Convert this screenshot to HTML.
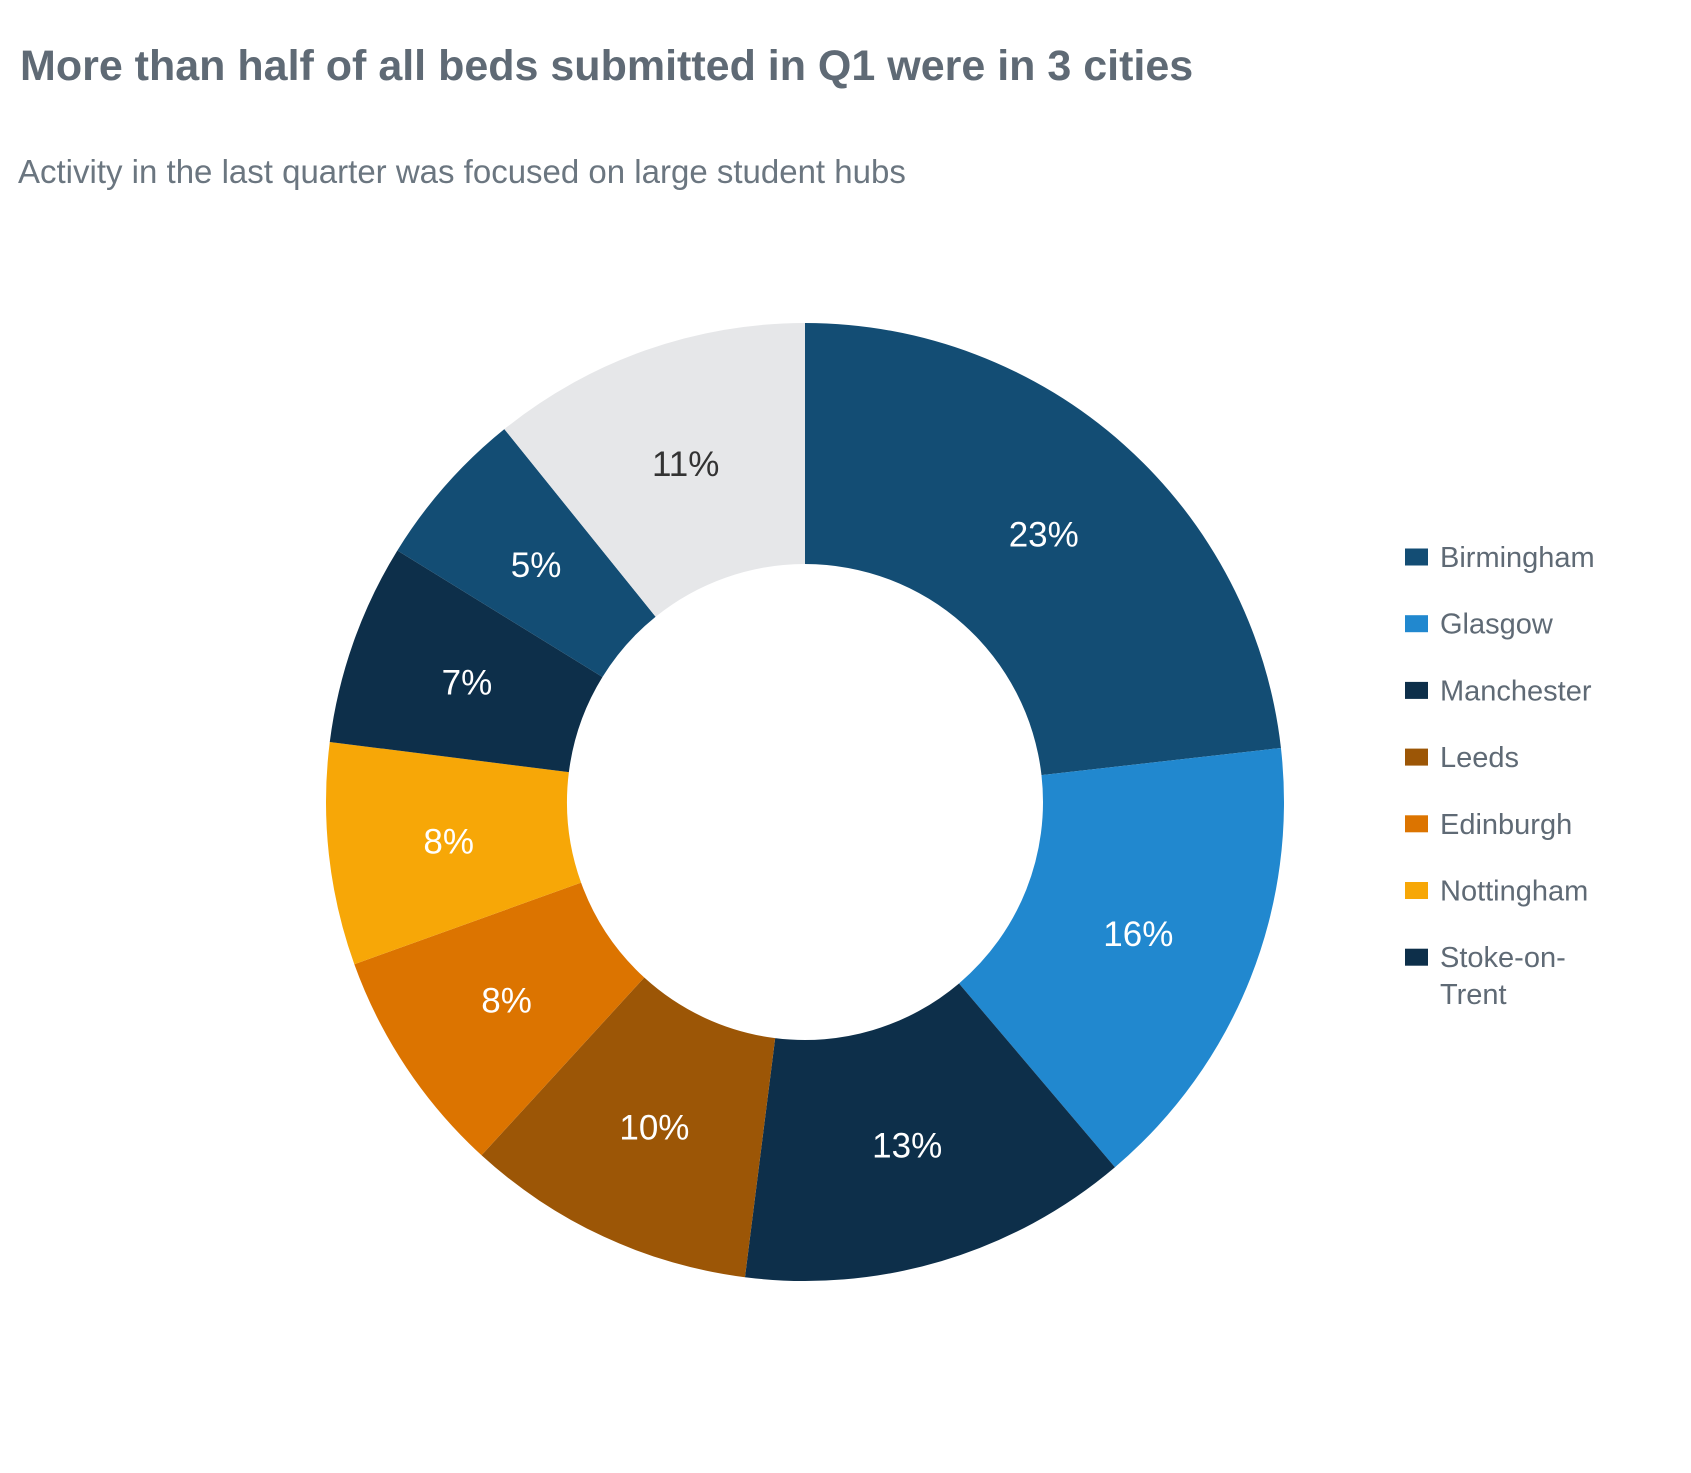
<!DOCTYPE html>
<html><head><meta charset="utf-8"><style>
body{margin:0;background:#fff;width:1691px;height:1468px;overflow:hidden;font-family:"Liberation Sans",sans-serif}
</style></head><body>
<svg width="1691" height="1468">
<text x="20" y="80" font-size="43" font-weight="bold" fill="#5f6a75" font-family="Liberation Sans, sans-serif">More than half of all beds submitted in Q1 were in 3 cities</text>
<text x="18" y="183" font-size="33" fill="#6b7680" font-family="Liberation Sans, sans-serif">Activity in the last quarter was focused on large student hubs</text>
<g id="pie"></g>
<g id="legend"></g>
</svg>
<script>
const categories=["Birmingham","Glasgow","Manchester","Leeds","Edinburgh","Nottingham","Stoke-on-Trent","Other city","Rest"];
const values=[23.2,15.6,13.2,9.8,7.7,7.5,6.8,5.4,10.8];
const labels=["23%","16%","13%","10%","8%","8%","7%","5%","11%"];
const colors=["#134d74","#2188cf","#0d2f4a","#9c5606","#dc7400","#f7a707","#0d2f4a","#134d74","#e6e7e9"];
const legendItems=["Birmingham","Glasgow","Manchester","Leeds","Edinburgh","Nottingham","Stoke-on-Trent"];
const NS="http://www.w3.org/2000/svg";
const cx=805,cy=802,R=479,r=238;
const pie=document.getElementById('pie');
const total=values.reduce((a,b)=>a+b,0);
function pt(a,rad){return [cx+rad*Math.sin(a),cy-rad*Math.cos(a)];}
let acc=0;
values.forEach((v,i)=>{
  const a0=acc/total*2*Math.PI;acc+=v;const a1=acc/total*2*Math.PI;
  const large=(a1-a0)>Math.PI?1:0;
  const p0=pt(a0,R),p1=pt(a1,R),q1=pt(a1,r),q0=pt(a0,r);
  const p=document.createElementNS(NS,'path');
  p.setAttribute('d',`M${p0[0]},${p0[1]}A${R},${R} 0 ${large} 1 ${p1[0]},${p1[1]}L${q1[0]},${q1[1]}A${r},${r} 0 ${large} 0 ${q0[0]},${q0[1]}Z`);
  p.setAttribute('fill',colors[i]);
  
  
  pie.appendChild(p);
  const m=pt((a0+a1)/2,(R+r)/2);
  const t=document.createElementNS(NS,'text');
  t.setAttribute('x',m[0]);t.setAttribute('y',m[1]+12);
  t.setAttribute('text-anchor','middle');t.setAttribute('font-size','35');
  t.setAttribute('fill',i==8?'#333':'#fff');
  
  
  t.textContent=labels[i];pie.appendChild(t);
});
const lg=document.getElementById('legend');
legendItems.forEach((c,i)=>{
  const y=557+i*66.7;
  const g=document.createElementNS(NS,'g');
  
  
  const s=document.createElementNS(NS,'rect');
  s.setAttribute('x',1405);s.setAttribute('y',y-8.5);s.setAttribute('width',23);s.setAttribute('height',17);s.setAttribute('fill',colors[i]);
  
  
  g.appendChild(s);
  const t=document.createElementNS(NS,'text');
  t.setAttribute('x',1440);t.setAttribute('font-size','29');t.setAttribute('fill','#5f6a75');
  
  
  if(c==="Stoke-on-Trent"){
    const a=document.createElementNS(NS,'tspan');a.setAttribute('x',1440);a.setAttribute('y',y+10);a.textContent='Stoke-on-';
    const b=document.createElementNS(NS,'tspan');b.setAttribute('x',1440);b.setAttribute('y',y+47);b.textContent='Trent';
    t.appendChild(a);t.appendChild(b);
  } else {t.setAttribute('y',y+10);t.textContent=c;}
  g.appendChild(t);lg.appendChild(g);
});
</script>
</body></html>
